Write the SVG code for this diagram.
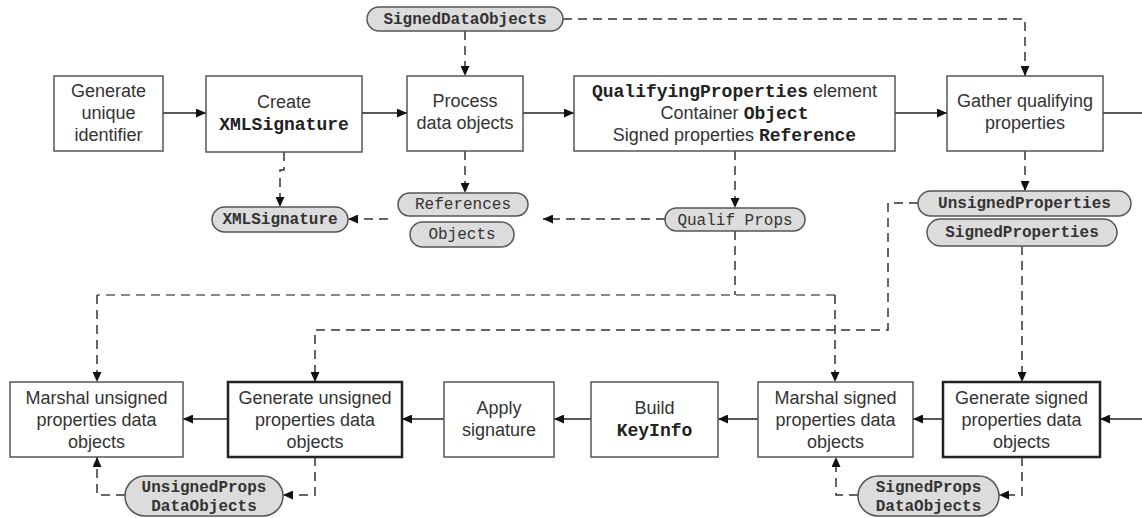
<svg xmlns="http://www.w3.org/2000/svg" width="1142" height="518" viewBox="0 0 1142 518">
<style>
.box{fill:#fff;stroke:#555;stroke-width:1.5}
.thick{fill:#fff;stroke:#222;stroke-width:2.5}
.pill{fill:#dcdcdc;stroke:#555;stroke-width:1.5}
.t{font-family:"Liberation Sans",Arial,sans-serif;font-size:18px;fill:#333;text-anchor:middle}
.m{font-family:"Liberation Mono","Courier New",monospace;font-weight:bold;fill:#222}
.p{font-family:"Liberation Mono","Courier New",monospace;font-size:16px;fill:#333;text-anchor:middle}
.pb{font-weight:bold}
.solid{fill:none;stroke:#222;stroke-width:1.5}
.dash{fill:none;stroke:#333;stroke-width:1.5;stroke-dasharray:9,6}
.gdash{fill:none;stroke:#888;stroke-width:2;stroke-dasharray:9,6}
</style>
<defs>
<marker id="ah" markerUnits="userSpaceOnUse" markerWidth="10" markerHeight="9" refX="10" refY="4.5" orient="auto">
<path d="M0,0 L10,4.5 L0,9 z" fill="#111"/>
</marker>
</defs>
<g id="connectors">
<path class="solid" d="M163,113 H206" marker-end="url(#ah)"/>
<path class="solid" d="M362,113 H407" marker-end="url(#ah)"/>
<path class="solid" d="M523,113 H574" marker-end="url(#ah)"/>
<path class="solid" d="M895,113 H947" marker-end="url(#ah)"/>
<path class="solid" d="M1103,113 H1142"/>
<path class="solid" d="M1142,419 H1100" marker-end="url(#ah)"/>
<path class="solid" d="M943,419 H913" marker-end="url(#ah)"/>
<path class="solid" d="M758,419 H718" marker-end="url(#ah)"/>
<path class="solid" d="M591,419 H554" marker-end="url(#ah)"/>
<path class="solid" d="M444,419 H402" marker-end="url(#ah)"/>
<path class="solid" d="M228,419 H183" marker-end="url(#ah)"/>
<path class="dash" d="M563,19 H1025 V76" marker-end="url(#ah)"/>
<path class="dash" d="M465,31 V76" marker-end="url(#ah)"/>
<path class="dash" d="M284,152 V170 H280 V207" marker-end="url(#ah)"/>
<path class="dash" d="M465,151 V193" marker-end="url(#ah)"/>
<path class="dash" d="M735,151 V208" marker-end="url(#ah)"/>
<path class="dash" d="M665,219 H543" marker-end="url(#ah)"/>
<path class="dash" d="M388,219 H348" marker-end="url(#ah)"/>
<path class="dash" d="M735,231 V295"/>
<path class="gdash" d="M835,295 H97"/>
<path class="dash" d="M97,295 V382" marker-end="url(#ah)"/>
<path class="dash" d="M835,295 V382" marker-end="url(#ah)"/>
<path class="dash" d="M918,203 H888 V330 H315 V382" marker-end="url(#ah)"/>
<path class="dash" d="M1025,151 V191" marker-end="url(#ah)"/>
<path class="dash" d="M1022,246 V382" marker-end="url(#ah)"/>
<path class="dash" d="M315,457 V495 H283" marker-end="url(#ah)"/>
<path class="dash" d="M125,495 H97 V457" marker-end="url(#ah)"/>
<path class="dash" d="M1022,457 V495 H999" marker-end="url(#ah)"/>
<path class="dash" d="M858,495 H836 V457" marker-end="url(#ah)"/>
</g>
<g id="gen-id">
<rect class="box" x="54" y="76" width="109" height="75"/>
<text class="t" x="108.5" y="97">Generate</text>
<text class="t" x="108.5" y="119">unique</text>
<text class="t" x="108.5" y="141">identifier</text>
</g>
<g id="create-sig">
<rect class="box" x="206" y="76" width="156" height="76"/>
<text class="t" x="284" y="108">Create</text>
<text class="t m" x="284" y="130">XMLSignature</text>
</g>
<g id="process">
<rect class="box" x="407" y="76" width="116" height="75"/>
<text class="t" x="465" y="107">Process</text>
<text class="t" x="465" y="129">data objects</text>
</g>
<g id="qualprops">
<rect class="box" x="574" y="76" width="321" height="75"/>
<text class="t" x="734.5" y="97"><tspan class="m">QualifyingProperties</tspan> element</text>
<text class="t" x="734.5" y="119">Container <tspan class="m">Object</tspan></text>
<text class="t" x="734.5" y="141">Signed properties <tspan class="m">Reference</tspan></text>
</g>
<g id="gather">
<rect class="box" x="947" y="76" width="156" height="75"/>
<text class="t" x="1025" y="107">Gather qualifying</text>
<text class="t" x="1025" y="129">properties</text>
</g>
<g id="marshal-unsigned">
<rect class="box" x="10" y="382" width="173" height="75"/>
<text class="t" x="96.5" y="404">Marshal unsigned</text>
<text class="t" x="96.5" y="426">properties data</text>
<text class="t" x="96.5" y="448">objects</text>
</g>
<g id="gen-unsigned">
<rect class="thick" x="228" y="382" width="174" height="75"/>
<text class="t" x="315" y="404">Generate unsigned</text>
<text class="t" x="315" y="426">properties data</text>
<text class="t" x="315" y="448">objects</text>
</g>
<g id="apply">
<rect class="box" x="444" y="382" width="110" height="75"/>
<text class="t" x="499" y="414">Apply</text>
<text class="t" x="499" y="436">signature</text>
</g>
<g id="keyinfo">
<rect class="box" x="591" y="382" width="127" height="75"/>
<text class="t" x="654.5" y="414">Build</text>
<text class="t m" x="654.5" y="436">KeyInfo</text>
</g>
<g id="marshal-signed">
<rect class="box" x="758" y="382" width="155" height="75"/>
<text class="t" x="835.5" y="404">Marshal signed</text>
<text class="t" x="835.5" y="426">properties data</text>
<text class="t" x="835.5" y="448">objects</text>
</g>
<g id="gen-signed">
<rect class="thick" x="943" y="382" width="157" height="75"/>
<text class="t" x="1021.5" y="404">Generate signed</text>
<text class="t" x="1021.5" y="426">properties data</text>
<text class="t" x="1021.5" y="448">objects</text>
</g>
<g id="pill-sdo">
<rect class="pill" x="367" y="7" width="196" height="24" rx="12"/>
<text class="p pb" x="465" y="24">SignedDataObjects</text>
</g>
<g id="pill-xmlsig">
<rect class="pill" x="212" y="207" width="136" height="25" rx="12.5"/>
<text class="p pb" x="280" y="224">XMLSignature</text>
</g>
<g id="pill-refs">
<rect class="pill" x="398" y="193" width="130" height="23" rx="11.5"/>
<text class="p" x="463" y="209">References</text>
</g>
<g id="pill-objs">
<rect class="pill" x="410" y="222" width="104" height="25" rx="12.5"/>
<text class="p" x="462" y="239">Objects</text>
</g>
<g id="pill-qualif">
<rect class="pill" x="665" y="208" width="140" height="23" rx="11.5"/>
<text class="p" x="735" y="225">Qualif Props</text>
</g>
<g id="pill-unsignedprops">
<rect class="pill" x="918" y="191" width="213" height="25" rx="12.5"/>
<text class="p pb" x="1024.5" y="208">UnsignedProperties</text>
</g>
<g id="pill-signedprops">
<rect class="pill" x="927" y="219" width="190" height="27" rx="13.5"/>
<text class="p pb" x="1022" y="237">SignedProperties</text>
</g>
<g id="pill-udo">
<rect class="pill" x="125" y="476" width="158" height="40" rx="20"/>
<text class="p pb" x="204" y="492">UnsignedProps</text>
<text class="p pb" x="204" y="511">DataObjects</text>
</g>
<g id="pill-sdo2">
<rect class="pill" x="858" y="476" width="141" height="40" rx="20"/>
<text class="p pb" x="928.5" y="492">SignedProps</text>
<text class="p pb" x="928.5" y="511">DataObjects</text>
</g>
</svg>
